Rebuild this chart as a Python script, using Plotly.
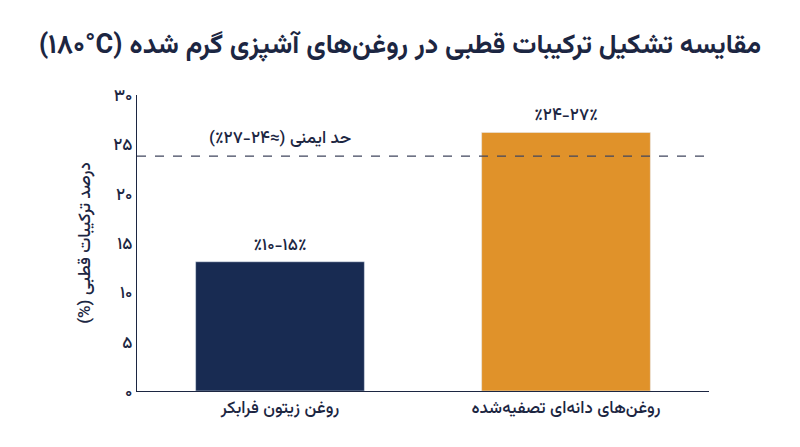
import plotly.graph_objects as go

categories = ["روغن زیتون فرابکر", "روغن‌های دانه‌ای تصفیه‌شده"]
values = [13.1, 26.2]
bar_labels = ["٪۱۰-۱۵٪", "٪۲۴-۲۷٪"]
bar_colors = ["#182b52", "#e0922a"]
safety_value = 23.8
safety_label = "حد ایمنی (≈۲۴-۲۷٪)\u200f"
tick_vals = [0, 5, 10, 15, 20, 25, 30]
tick_text = ["۰", "۵", "۱۰", "۱۵", "۲۰", "۲۵", "۳۰"]
title_text = "(۱۸۰°C) مقایسه تشکیل ترکیبات قطبی در روغن‌های آشپزی گرم شده"
y_title = "درصد ترکیبات قطبی (%)\u200f"

FONT = "Vazirmatn"
DARK = "#1c2642"

fig = go.Figure()
fig.add_trace(go.Bar(
    x=categories, y=values, marker_color=bar_colors, width=0.59,
    text=bar_labels, textposition="outside", cliponaxis=False,
    textfont=dict(family=FONT, size=17, color=DARK, weight=500),
    hoverinfo="skip",
))
fig.add_shape(type="line", xref="paper", x0=0, x1=1, yref="y",
              y0=safety_value, y1=safety_value,
              line=dict(color="#40465e", width=1.3, dash="dash"))
fig.add_annotation(x=categories[0], y=safety_value, yanchor="bottom", yshift=2,
                   text=safety_label, showarrow=False,
                   font=dict(family=FONT, size=17, color=DARK, weight=500))

fig.update_layout(
    width=800, height=447,
    margin=dict(l=129, r=99, t=87, b=64),
    plot_bgcolor="white", paper_bgcolor="white",
    showlegend=False,
    title=dict(text=title_text, x=0.49, xanchor="center", y=0.9195, yanchor="middle",
               font=dict(family=FONT, size=27, color=DARK, weight="bold")),
    font=dict(family=FONT, color=DARK),
)
fig.update_xaxes(showline=True, linecolor=DARK, linewidth=1.3, showgrid=False,
                 ticks="", tickfont=dict(family=FONT, size=17, color=DARK, weight=500),
                 range=[-0.5, 1.5])
fig.update_yaxes(range=[0, 30], tickvals=tick_vals, ticktext=tick_text,
                 showline=True, linecolor=DARK, linewidth=1.3, showgrid=False,
                 zeroline=False, ticks="", ticklen=0,
                 tickfont=dict(family=FONT, size=17, color=DARK, weight=500),
                 title=dict(text=y_title, font=dict(family=FONT, size=17, color=DARK, weight=500),
                            standoff=18))

fig.write_html("out.html")
